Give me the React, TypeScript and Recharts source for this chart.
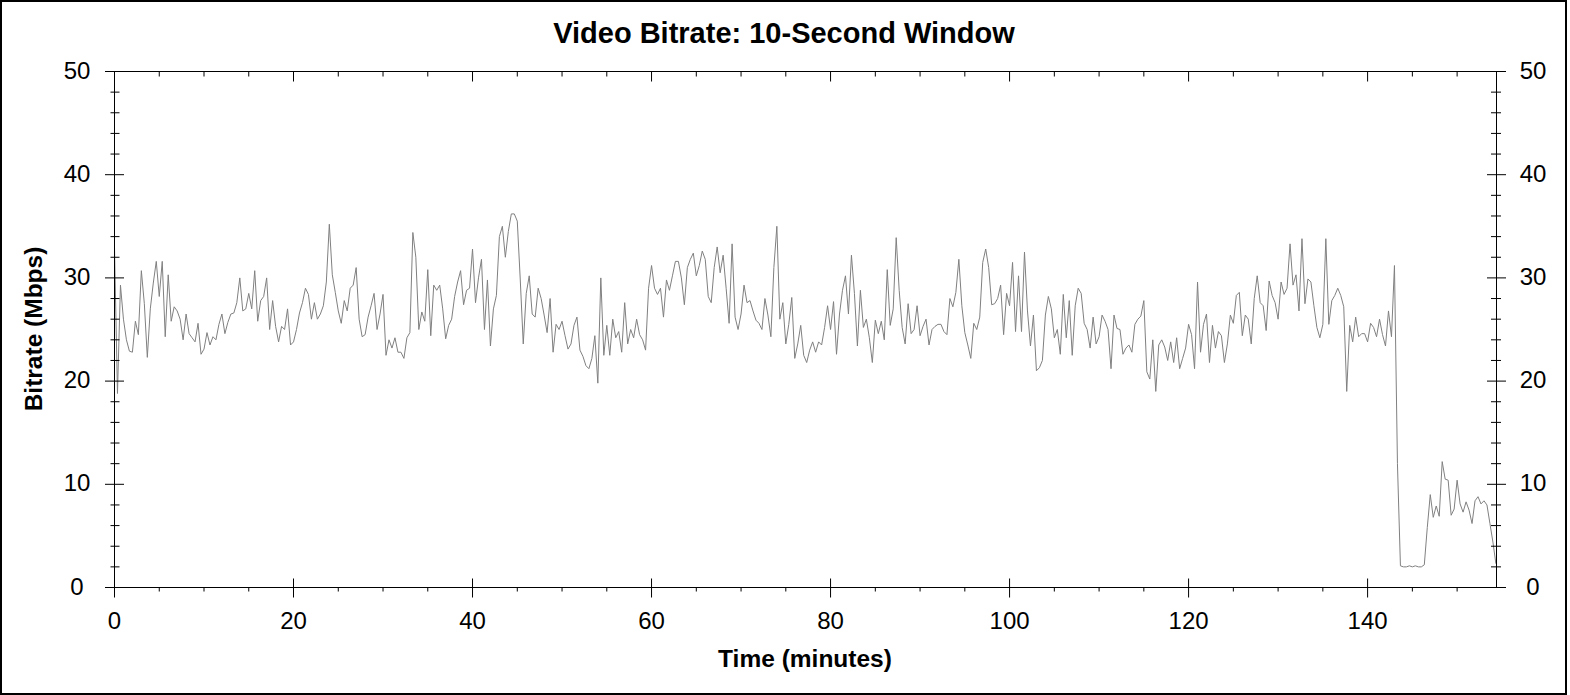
import { Line, LineChart, XAxis, YAxis } from 'recharts';

const TITLE = 'Video Bitrate: 10-Second Window';
const X_LABEL = 'Time (minutes)';
const Y_LABEL = 'Bitrate (Mbps)';

// Bitrate in Mbps: one row per minute, three readings 20 s apart
const bitrate0to29 = [
  [33, 18.8, 29.3], [26, 24, 22.9], [22.8, 25.8, 24.5], [30.7, 27.5, 22.3], [27, 29.5, 31.6],
  [28.2, 31.6, 24.3], [30.3, 25.8, 27.2], [26.8, 26, 24], [26.5, 24.6, 24.2], [23.8, 25.6, 22.6],
  [23.1, 24.7, 23.5], [24.3, 24, 25.5], [26.5, 24.6, 25.7], [26.5, 26.6, 27.6], [30, 26.8, 27],
  [28.5, 27, 30.7], [25.8, 27.8, 28.2], [30, 25, 27.8], [25.3, 23.8, 25.3], [25, 27, 23.5],
  [23.8, 25, 26.6], [27.6, 29, 28.4], [26, 27.6, 26], [26.5, 27.3, 29.6], [35.2, 30.3, 28.6],
  [26.8, 25.6, 27.8], [26.8, 29, 29.3], [31, 26, 24.3], [24.5, 26.2, 27.3], [28.5, 25, 26.5],
];
const bitrate30to59 = [
  [28.4, 22.5, 24], [23.2, 24.2, 22.8], [22.8, 22.2, 24.2], [24.7, 34.4, 32], [25, 26.7, 25.8],
  [30.8, 24.4, 29.3], [28.8, 29.3, 27], [24.1, 25.4, 26], [28.2, 29.6, 30.7], [27.4, 28.8, 29],
  [32.8, 27.6, 30], [31.8, 25, 29.8], [23.4, 27, 28.3], [34, 35, 32], [34.5, 36.2, 36.2],
  [35.5, 29.8, 23.6], [28.5, 30.2, 26.5], [26.2, 29, 28], [26.4, 24.7, 28], [22.8, 25.5, 25],
  [25.8, 24.4, 23.1], [23.6, 25.4, 26.2], [23, 22.4, 21.5], [21.2, 22.2, 24.4], [19.8, 30, 22.5],
  [25.4, 22.5, 26], [24.2, 24.8, 22.8], [27.6, 23.6, 25], [24.2, 26, 24.5], [24, 23, 29],
];
const bitrate60to89 = [
  [31.2, 29, 28.4], [29, 26.2, 29.8], [28.8, 30.2, 31.6], [31.6, 30, 27.4], [31, 31.8, 32.4],
  [30.2, 31.2, 32.6], [31.8, 28.2, 27.6], [31, 33, 30.5], [32.2, 29, 25.6], [33.3, 26.2, 25],
  [26.5, 29.3, 27.6], [27.8, 26.8, 25.9], [25.6, 25, 28], [26.4, 24.3, 31], [35, 26, 27.6],
  [23.6, 25.5, 28.1], [22.2, 23.6, 25.4], [22.5, 21.8, 23], [23.8, 22.8, 23.8], [23.5, 25.2, 27.3],
  [25, 27.7, 22.6], [26.5, 28.8, 30.2], [26.5, 32.2, 28.5], [23.4, 28.8, 25.2], [26, 24.2, 21.8],
  [25.9, 24.6, 25.8], [24, 30.8, 25.4], [27, 33.9, 28.8], [25.2, 23.6, 27.5], [24.6, 25, 27.3],
];
const bitrate90to119 = [
  [24.4, 25.3, 26], [23.5, 25, 25.3], [25.5, 25.5, 24.8], [24.5, 28, 27.2], [28.6, 31.8, 27.3],
  [24.7, 23.5, 22.2], [25.6, 25, 26.2], [31.5, 32.8, 31], [27.4, 27.5, 28], [29.3, 24.5, 28.5],
  [27.3, 31.5, 24.8], [30.2, 24.8, 32.5], [26.8, 23.4, 26.4], [21, 21.3, 22], [26.4, 28.2, 27],
  [24.2, 25, 22.6], [28.4, 24.2, 27.8], [22.5, 27.3, 29], [28.5, 25.6, 25], [23.2, 26.2, 23.6],
  [24.3, 26.4, 25.8], [25, 21.2, 26.4], [25.1, 25, 22.6], [23.2, 23.5, 22.8], [25.5, 26, 26.3],
  [27.8, 20.9, 20.2], [24, 19, 23.5], [24, 23.3, 22], [23.8, 21.8, 24.2], [21.2, 22.2, 23.2],
];
const bitrate120to154 = [
  [25.5, 24.5, 21.2], [29.6, 22.8, 25.5], [26.5, 21.8, 25.4], [23.2, 24.8, 24.4], [21.8, 23.6, 26.4],
  [25.6, 28.3, 28.6], [24.4, 26.4, 26], [23.6, 28, 30.2], [27.6, 27.3, 24.9], [29.7, 28.3, 27.6],
  [26, 29.6, 28.4], [29, 33.3, 29.3], [30.3, 26.8, 33.8], [27.5, 29.9, 29.6], [27.3, 25.2, 24.2],
  [25.5, 33.8, 25.5], [27.8, 28.3, 29], [28.3, 27.2, 19], [25.4, 23.8, 26.2], [24.3, 24.6, 24.6],
  [23.8, 25.6, 25.2], [24.3, 26, 24.5], [23.4, 26.8, 24.3], [31.2, 12, 2.1], [2, 2, 2.1],
  [2, 2.1, 2], [2, 2.2, 5.8], [9, 6.8, 7.9], [6.9, 12.2, 10.5], [10.4, 7, 7.6],
  [10.4, 8.1, 7.3], [8.3, 7.5, 6.2], [8.4, 8.8, 8.1], [8.4, 8, 6.2], [4.4, 2.3],
];

const timeTicks = [0, 5, 10, 15, 20, 25, 30, 35, 40, 45, 50, 55, 60, 65, 70, 75, 80, 85, 90, 95, 100, 105, 110, 115, 120, 125, 130, 135, 140, 145, 150];
const timeLabels = [0, 20, 40, 60, 80, 100, 120, 140];
const rateTicks = [0, 2, 4, 6, 8, 10, 12, 14, 16, 18, 20, 22, 24, 26, 28, 30, 32, 34, 36, 38, 40, 42, 44, 46, 48, 50];
const rateLabels = [0, 10, 20, 30, 40, 50];

const SAMPLES_PER_MINUTE = 3;
const END_MINUTE = 154.4;

const data = [...bitrate0to29, ...bitrate30to59, ...bitrate60to89, ...bitrate90to119, ...bitrate120to154]
  .flat()
  .map((bitrate, i) => ({ minute: i / SAMPLES_PER_MINUTE, bitrate }));

const FONT = '"Liberation Sans", Arial, sans-serif';

function BottomTick({ x, y, payload }: any) {
  const major = timeLabels.includes(payload.value);
  return (
    <g>
      <line x1={x} x2={x} y1={major ? y - 9 : y} y2={y + (major ? 10 : 4)} stroke="#000" />
      {major && (
        <text x={x} y={y + 41} textAnchor="middle" fontSize={24} fontFamily={FONT} fill="#000">
          {payload.value}
        </text>
      )}
    </g>
  );
}

function TopTick({ x, y, payload }: any) {
  const major = timeLabels.includes(payload.value);
  return <line x1={x} x2={x} y1={y} y2={y + (major ? 10 : 5)} stroke="#000" />;
}

function LeftTick({ x, y, payload }: any) {
  const major = rateLabels.includes(payload.value);
  return (
    <g>
      <line x1={x - (major ? 9.5 : 4)} x2={x + (major ? 9.5 : 5)} y1={y} y2={y} stroke="#000" />
      {major && (
        <text x={x - 37.5} y={y + 7} textAnchor="middle" fontSize={24} fontFamily={FONT} fill="#000">
          {payload.value}
        </text>
      )}
    </g>
  );
}

function RightTick({ x, y, payload }: any) {
  const major = rateLabels.includes(payload.value);
  return (
    <g>
      <line x1={x - (major ? 9.5 : 5.5)} x2={x + (major ? 9.5 : 4.5)} y1={y} y2={y} stroke="#000" />
      {major && (
        <text x={x + 36.5} y={y + 7} textAnchor="middle" fontSize={24} fontFamily={FONT} fill="#000">
          {payload.value}
        </text>
      )}
    </g>
  );
}

export default function App() {
  return (
    <div style={{ position: 'relative', width: 1570, height: 695, background: '#fff', overflow: 'hidden' }}>
      <style>{'body { margin: 0; }'}</style>

      {/* Chart */}
      <div style={{ position: 'absolute', left: 0, top: 0 }}>
        <LineChart
          width={1570}
          height={695}
          data={data}
          margin={{ top: 61.5, right: 13.5, bottom: 47.5, left: 54.5 }}
        >
          <XAxis
            xAxisId="bottom"
            dataKey="minute"
            type="number"
            domain={[0, END_MINUTE]}
            ticks={timeTicks}
            interval={0}
            allowDataOverflow
            height={60}
            tickSize={0}
            tickMargin={0}
            tickLine={false}
            axisLine={{ stroke: '#000' }}
            tick={<BottomTick />}
          />
          <XAxis
            xAxisId="top"
            orientation="top"
            dataKey="minute"
            type="number"
            domain={[0, END_MINUTE]}
            ticks={timeTicks}
            interval={0}
            allowDataOverflow
            height={10}
            tickSize={0}
            tickMargin={0}
            tickLine={false}
            axisLine={{ stroke: '#000' }}
            tick={<TopTick />}
          />
          <YAxis
            yAxisId="left"
            type="number"
            domain={[0, 50]}
            ticks={rateTicks}
            interval={0}
            allowDataOverflow
            width={60}
            tickSize={0}
            tickMargin={0}
            tickLine={false}
            axisLine={{ stroke: '#000' }}
            tick={<LeftTick />}
          />
          <YAxis
            yAxisId="right"
            orientation="right"
            type="number"
            domain={[0, 50]}
            ticks={rateTicks}
            interval={0}
            allowDataOverflow
            width={60}
            tickSize={0}
            tickMargin={0}
            tickLine={false}
            axisLine={{ stroke: '#000' }}
            tick={<RightTick />}
          />
          <Line
            xAxisId="bottom"
            yAxisId="left"
            type="linear"
            dataKey="bitrate"
            stroke="#808080"
            strokeWidth={1}
            dot={false}
            activeDot={false}
            isAnimationActive={false}
          />
        </LineChart>
      </div>

      {/* Title and axis labels */}
      <svg width={1570} height={695} style={{ position: 'absolute', left: 0, top: 0, pointerEvents: 'none' }}>
        <text x={784} y={43} textAnchor="middle" fontSize={29} fontWeight="bold" fontFamily={FONT} fill="#000">
          {TITLE}
        </text>
        <text x={805} y={667} textAnchor="middle" fontSize={24.5} fontWeight="bold" fontFamily={FONT} fill="#000">
          {X_LABEL}
        </text>
        <text
          x={42}
          y={329}
          transform="rotate(-90 42 329)"
          textAnchor="middle"
          fontSize={24.5}
          fontWeight="bold"
          fontFamily={FONT}
          fill="#000"
        >
          {Y_LABEL}
        </text>
      </svg>

      {/* Outer frame */}
      <div
        style={{
          position: 'absolute',
          left: 0,
          top: 0,
          width: 1567,
          height: 695,
          border: '2px solid #000',
          boxSizing: 'border-box',
          pointerEvents: 'none',
        }}
      />
    </div>
  );
}
